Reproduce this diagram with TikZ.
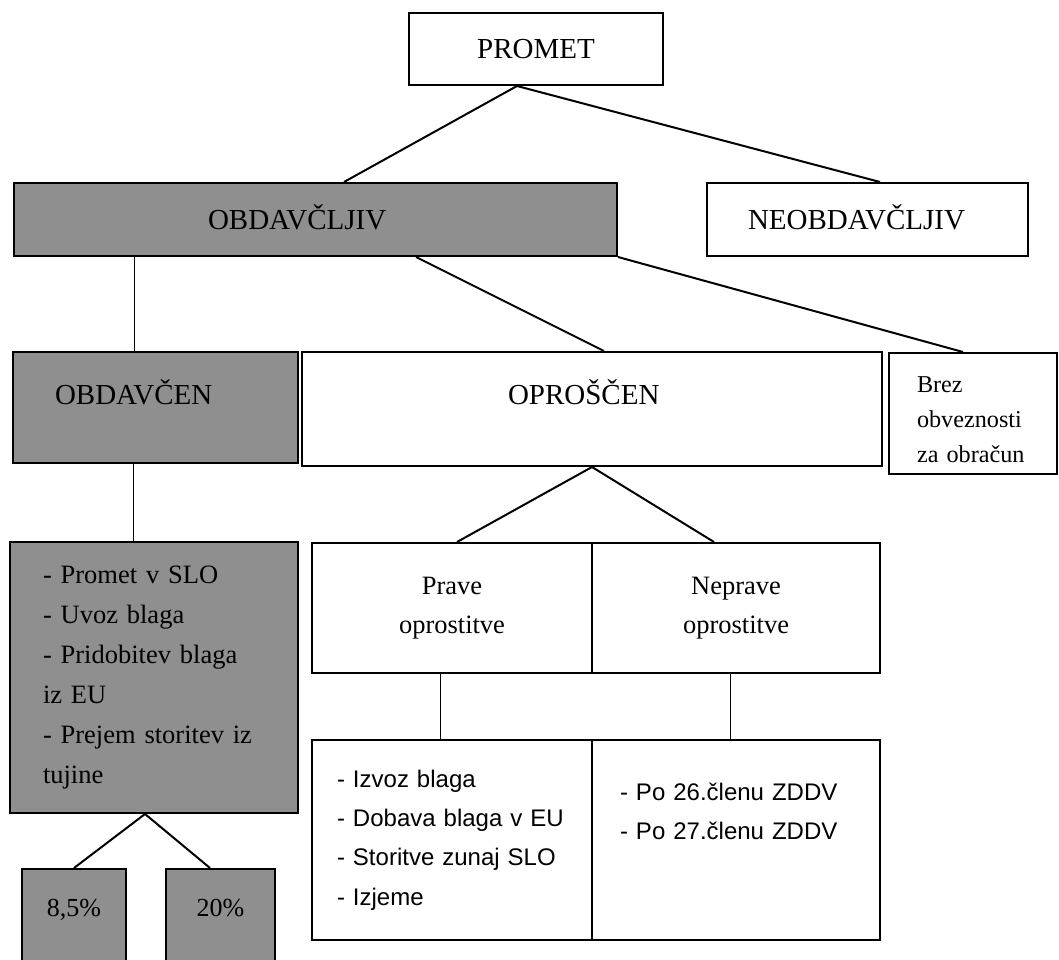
\documentclass[tikz,border=0pt]{standalone}
\usepackage{fontspec}
\setmainfont{Liberation Serif}
\newfontfamily\listfont{Liberation Sans}

\tikzset{
  box/.style={draw, line width=2pt, inner sep=0pt, align=center},
  shaded/.style={box, fill=black!44},
  dims/.style 2 args={minimum width=#1pt, minimum height=#2pt},
  pad/.style 2 args={inner xsep=#1pt, text width=#2pt, align=left},
  link/.style={line width=2pt},
  thinlink/.style={line width=1pt},
  big/.style={font=\fontsize{29}{35}\selectfont},
  mid/.style={font=\fontsize{26.5}{40}\selectfont},
  small/.style={font=\fontsize{24.2}{35}\selectfont},
  sanslist/.style={font=\listfont\fontsize{24}{39.3}\selectfont},
  caps/.style={text height=19pt, text depth=0pt},
}

\begin{document}
\begin{tikzpicture}[x=1pt, y=-1pt]

  \useasboundingbox (0,0) rectangle (1059,960);
  \fill[white] (0,0) rectangle (1059,960);
  \clip (0,0) rectangle (1059,960);

  % Top levels
  \node[box, big, caps, dims={254}{72}] (promet) at (536,49) {PROMET};
  \node[shaded, big, caps, dims={603}{73}, pad={194}{215}] (obdlj) at (315.5,219.5) {OBDAVČLJIV};
  \node[box, big, caps, dims={321}{73}, pad={41}{239}] (neobdlj) at (867.5,219.5) {NEOBDAVČLJIV};

  % Second level
  \node[shaded, big, caps, text depth=26pt, dims={285}{111}, pad={42}{201}] (obden) at (155.5,407.5) {OBDAVČEN};
  \node[box, big, caps, text depth=28pt, dims={580}{114}, pad={206}{168}] (oprscen) at (592,409) {OPROŠČEN};
  \node[box, small, dims={168}{121}, pad={28}{112}, text height=28pt] (brez) at (973,413.5) {Brez\\obveznosti\\za obračun};

  % Exemptions
  \node[box, font=\fontsize{26.5}{39}\selectfont, dims={280}{130}] (prave) at (452,608) {Prave\\oprostitve};
  \node[box, font=\fontsize{26.5}{39}\selectfont, dims={288}{130}] (neprave) at (736,608) {Neprave\\oprostitve};
  \node[box, sanslist, dims={280}{200}, pad={25}{230}] (pravelst) at (452,840)
    {- Izvoz blaga\\- Dobava blaga v EU\\- Storitve zunaj SLO\\- Izjeme};
  \node[box, sanslist, dims={288}{200}, pad={28}{232}, text depth=97pt] (nepravelst) at (736,840)
    {- Po 26.členu ZDDV\\- Po 27.členu ZDDV};

  % Taxed supplies and rates
  \node[shaded, mid, dims={288}{271}, pad={33}{222}] (vrste) at (154,677.5)
    {- Promet v SLO\\- Uvoz blaga\\- Pridobitev blaga\\iz EU\\- Prejem storitev iz\\tujine};
  \node[shaded, font=\fontsize{26}{30}\selectfont, text height=18pt, text depth=35pt, dims={104}{111}] (p85) at (74,924.5) {8,5\%};
  \node[shaded, font=\fontsize{26}{30}\selectfont, text height=18pt, text depth=35pt, dims={109}{111}] (p20) at (220.5,924.5) {20\%};

  % Connectors
  \draw[link] ([xshift=-19pt]promet.south) -- ([xshift=28.5pt]obdlj.north);
  \draw[link] ([xshift=-19pt]promet.south) -- ([xshift=12.5pt]neobdlj.north);
  \draw[thinlink] ([xshift=-181.5pt]obdlj.south) -- ([xshift=-21.5pt]obden.north);
  \draw[link] ([xshift=100.5pt]obdlj.south) -- ([xshift=12pt]oprscen.north);
  \draw[link] (obdlj.south east) -- ([xshift=-10pt]brez.north);
  \draw[link] (oprscen.south) -- ([xshift=5pt]prave.north);
  \draw[link] (oprscen.south) -- ([xshift=-22pt]neprave.north);
  \draw[thinlink] ([xshift=-12pt]prave.south) -- ([xshift=-12pt]pravelst.north);
  \draw[thinlink] ([xshift=-6pt]neprave.south) -- ([xshift=-6pt]nepravelst.north);
  \draw[thinlink] ([xshift=-22.5pt]obden.south) -- ([xshift=-21pt]vrste.north);
  \draw[link] ([xshift=-9pt]vrste.south) -- (p85.north);
  \draw[link] ([xshift=-9pt]vrste.south) -- ([xshift=-10.5pt]p20.north);

\end{tikzpicture}
\end{document}
